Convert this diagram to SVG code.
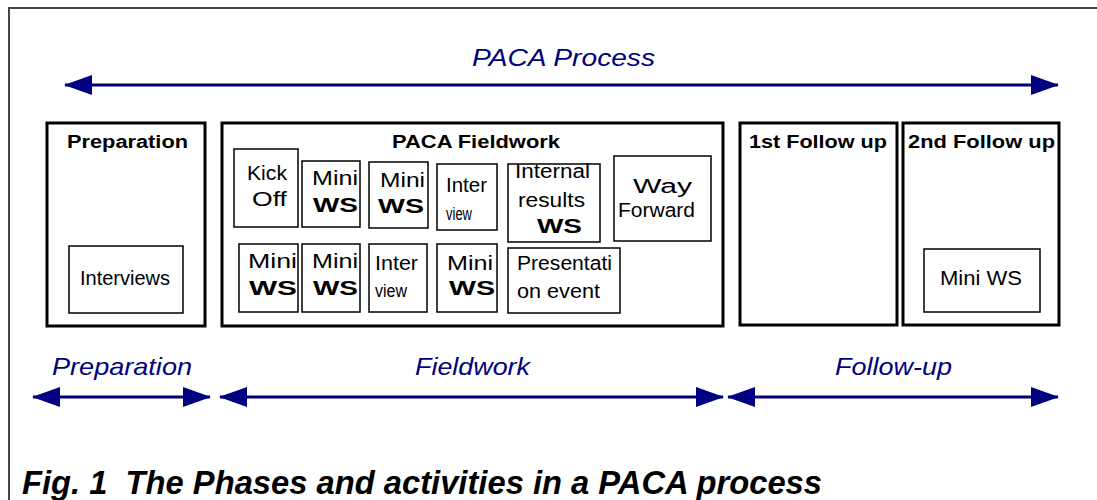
<svg xmlns="http://www.w3.org/2000/svg" width="1097" height="500" viewBox="0 0 1097 500">
<defs>
<marker id="ah" viewBox="0 0 28 20" refX="27" refY="10" markerWidth="28" markerHeight="20" markerUnits="userSpaceOnUse" orient="auto-start-reverse">
<path d="M0,0 L28,10 L0,20 Z" fill="#000080"/>
</marker>
<style>
.frame{fill:none;stroke:#444;stroke-width:2}
.phase{fill:#fff;stroke:#000;stroke-width:3}
.act{fill:#fff;stroke:#000;stroke-width:1.5}
.conn{stroke:#000080;stroke-width:3;fill:none}
.lbl{font-family:"Liberation Sans",Arial,sans-serif;font-style:italic;fill:#000080;font-size:24px}
.ttl{font-family:"Liberation Sans",Arial,sans-serif;font-weight:bold;fill:#000;font-size:18px}
.t{font-family:"Liberation Sans",Arial,sans-serif;fill:#000;font-size:20px}
.ws{font-family:"Liberation Sans",Arial,sans-serif;font-weight:bold;fill:#000;font-size:21px}
.sm{font-family:"Liberation Sans",Arial,sans-serif;fill:#000;font-size:18px}
.cap{font-family:"Liberation Sans",Arial,sans-serif;font-weight:bold;font-style:italic;fill:#000;font-size:33px}
</style>
</defs>
<rect x="0" y="0" width="1097" height="500" fill="#fff"/>
<rect class="frame" x="9" y="8" width="1200" height="600"/>

<g id="connectors">
<line class="conn" x1="65" y1="85" x2="1058" y2="85" marker-start="url(#ah)" marker-end="url(#ah)"/>
<line class="conn" x1="33" y1="397" x2="210" y2="397" marker-start="url(#ah)" marker-end="url(#ah)"/>
<line class="conn" x1="220" y1="397" x2="723" y2="397" marker-start="url(#ah)" marker-end="url(#ah)"/>
<line class="conn" x1="728" y1="397" x2="1058" y2="397" marker-start="url(#ah)" marker-end="url(#ah)"/>
</g>

<g id="labels">
<text class="lbl" x="472" y="66" textLength="183" lengthAdjust="spacingAndGlyphs">PACA Process</text>
<text class="lbl" x="52" y="375" textLength="140" lengthAdjust="spacingAndGlyphs">Preparation</text>
<text class="lbl" x="415" y="375" textLength="115" lengthAdjust="spacingAndGlyphs">Fieldwork</text>
<text class="lbl" x="835" y="375" textLength="117" lengthAdjust="spacingAndGlyphs">Follow-up</text>
</g>

<g id="phase-preparation">
<rect class="phase" x="47" y="123" width="158" height="203"/>
<text class="ttl" x="67" y="148" textLength="121" lengthAdjust="spacingAndGlyphs">Preparation</text>
</g>
<g id="act-interviews">
<rect class="act" x="69" y="246" width="114" height="67"/>
<text class="t" x="80" y="285" textLength="90" lengthAdjust="spacingAndGlyphs">Interviews</text>
</g>

<g id="phase-fieldwork">
<rect class="phase" x="222" y="123" width="501" height="203"/>
<text class="ttl" x="392" y="148" textLength="168" lengthAdjust="spacingAndGlyphs">PACA Fieldwork</text>
</g>
<g id="act-kickoff">
<rect class="act" x="234" y="149" width="64" height="78"/>
<text class="t" x="247" y="180" textLength="40" lengthAdjust="spacingAndGlyphs">Kick</text>
<text class="t" x="252" y="206" textLength="35" lengthAdjust="spacingAndGlyphs">Off</text>
</g>
<g id="act-miniws-1">
<rect class="act" x="302" y="161" width="58" height="66"/>
<text class="t" x="312" y="185" textLength="46" lengthAdjust="spacingAndGlyphs">Mini</text>
<text class="ws" x="313" y="212" textLength="45" lengthAdjust="spacingAndGlyphs">WS</text>
</g>
<g id="act-miniws-2">
<rect class="act" x="369" y="162" width="59" height="66"/>
<text class="t" x="380" y="187" textLength="45" lengthAdjust="spacingAndGlyphs">Mini</text>
<text class="ws" x="378" y="213" textLength="46" lengthAdjust="spacingAndGlyphs">WS</text>
</g>
<g id="act-interview-1">
<rect class="act" x="437" y="164" width="60" height="66"/>
<text class="t" x="446" y="192" textLength="41" lengthAdjust="spacingAndGlyphs">Inter</text>
<text class="sm" x="446" y="220" textLength="26" lengthAdjust="spacingAndGlyphs">view</text>
</g>
<g id="act-internal-results">
<rect class="act" x="508" y="164" width="92" height="78"/>
<text class="t" x="515" y="178" textLength="75" lengthAdjust="spacingAndGlyphs">Internal</text>
<text class="t" x="518" y="207" textLength="67" lengthAdjust="spacingAndGlyphs">results</text>
<text class="ws" x="537" y="233" textLength="45" lengthAdjust="spacingAndGlyphs">WS</text>
</g>
<g id="act-way-forward">
<rect class="act" x="614" y="156" width="97" height="85"/>
<text class="t" x="633" y="193" textLength="59" lengthAdjust="spacingAndGlyphs">Way</text>
<text class="t" x="618" y="217" textLength="77" lengthAdjust="spacingAndGlyphs">Forward</text>
</g>
<g id="act-miniws-3">
<rect class="act" x="239" y="244" width="59" height="68"/>
<text class="t" x="248" y="268" textLength="49" lengthAdjust="spacingAndGlyphs">Mini</text>
<text class="ws" x="249" y="295" textLength="48" lengthAdjust="spacingAndGlyphs">WS</text>
</g>
<g id="act-miniws-4">
<rect class="act" x="302" y="244" width="58" height="68"/>
<text class="t" x="312" y="268" textLength="46" lengthAdjust="spacingAndGlyphs">Mini</text>
<text class="ws" x="313" y="295" textLength="45" lengthAdjust="spacingAndGlyphs">WS</text>
</g>
<g id="act-interview-2">
<rect class="act" x="369" y="244" width="58" height="68"/>
<text class="t" x="375" y="270" textLength="43" lengthAdjust="spacingAndGlyphs">Inter</text>
<text class="sm" x="375" y="297" textLength="32" lengthAdjust="spacingAndGlyphs">view</text>
</g>
<g id="act-miniws-5">
<rect class="act" x="437" y="244" width="60" height="68"/>
<text class="t" x="447" y="270" textLength="46" lengthAdjust="spacingAndGlyphs">Mini</text>
<text class="ws" x="449" y="295" textLength="46" lengthAdjust="spacingAndGlyphs">WS</text>
</g>
<g id="act-presentation">
<rect class="act" x="508" y="248" width="112" height="65"/>
<text class="t" x="517" y="270" textLength="95" lengthAdjust="spacingAndGlyphs">Presentati</text>
<text class="t" x="517" y="298" textLength="83" lengthAdjust="spacingAndGlyphs">on event</text>
</g>

<g id="phase-followup-1">
<rect class="phase" x="740" y="123" width="157" height="202"/>
<text class="ttl" x="749" y="148" textLength="138" lengthAdjust="spacingAndGlyphs">1st Follow up</text>
</g>
<g id="phase-followup-2">
<rect class="phase" x="903" y="123" width="156" height="202"/>
<text class="ttl" x="908" y="148" textLength="147" lengthAdjust="spacingAndGlyphs">2nd Follow up</text>
</g>
<g id="act-miniws-followup">
<rect class="act" x="924" y="249" width="116" height="63"/>
<text class="t" x="940" y="285" textLength="82" lengthAdjust="spacingAndGlyphs">Mini WS</text>
</g>

<g id="caption">
<text class="cap" x="22" y="494" textLength="800" lengthAdjust="spacingAndGlyphs">Fig. 1&#160; The Phases and activities in a PACA process</text>
</g>
</svg>
